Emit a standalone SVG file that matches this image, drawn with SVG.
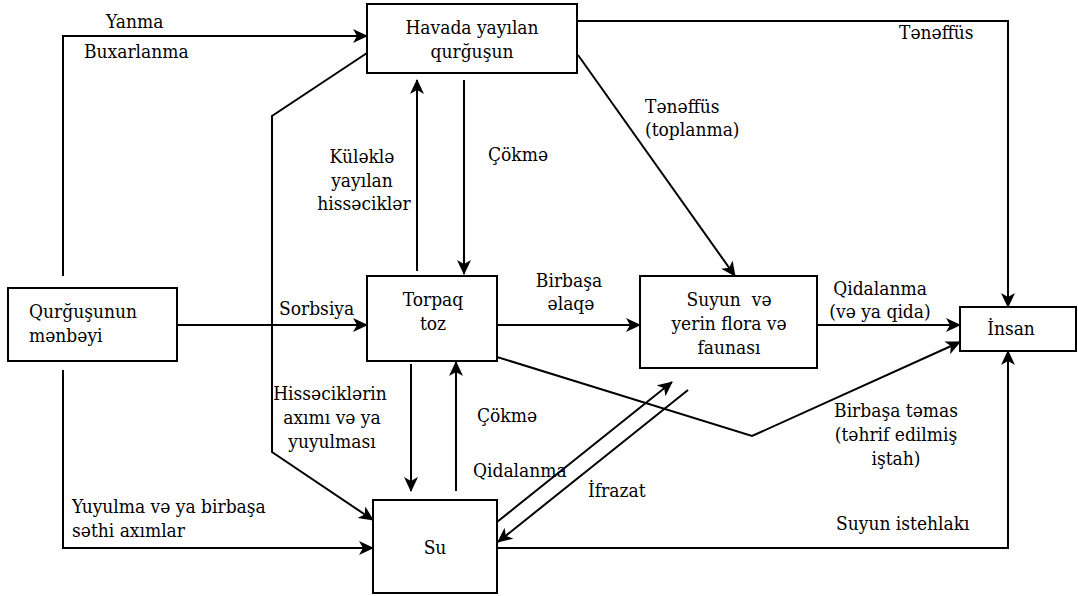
<svg xmlns="http://www.w3.org/2000/svg" width="1078" height="596" viewBox="0 0 1078 596">
  <style>
    .box { fill: #ffffff; stroke: #000000; stroke-width: 2; }
    .wire { fill: none; stroke: #000000; stroke-width: 2; }
    .arr { marker-end: url(#head); }
    text { font-family: "DejaVu Serif Condensed", "DejaVu Serif", serif; font-stretch: condensed; font-size: 19px; fill: #000000; }
    .c { text-anchor: middle; }
  </style>
  <defs>
    <marker id="head" markerUnits="userSpaceOnUse" markerWidth="18" markerHeight="16" refX="14" refY="7" orient="auto">
      <path d="M0,0 L15,7 L0,14 L4,7 Z" fill="#000000"/>
    </marker>
  </defs>
  <rect width="1078" height="596" fill="#ffffff"/>

  <!-- connectors -->
  <g id="connectors">
    <!-- source up to airborne lead -->
    <polyline class="wire arr" points="63,276 63,36 367,36"/>
    <!-- airborne lead down the left side into water -->
    <polyline class="wire arr" points="367,53 272,116 272,452 373,520"/>
    <!-- source to soil/dust -->
    <line class="wire arr" x1="177" y1="325" x2="367" y2="325"/>
    <!-- source down to water -->
    <polyline class="wire arr" points="63,370 63,548 373,548"/>
    <!-- soil up to air -->
    <line class="wire arr" x1="417" y1="271" x2="417" y2="80"/>
    <!-- air down to soil -->
    <line class="wire arr" x1="464" y1="80" x2="464" y2="274"/>
    <!-- soil to flora/fauna -->
    <line class="wire arr" x1="497" y1="325" x2="640" y2="325"/>
    <!-- air to flora/fauna -->
    <line class="wire arr" x1="578" y1="55" x2="735" y2="276"/>
    <!-- air to human -->
    <polyline class="wire arr" points="577,21 1008,21 1008,307"/>
    <!-- flora/fauna to human -->
    <line class="wire arr" x1="817" y1="325" x2="960" y2="325"/>
    <!-- soil to human (direct contact) -->
    <polyline class="wire arr" points="497,357 752,436 960,342"/>
    <!-- water to human -->
    <polyline class="wire arr" points="497,548 1008,548 1008,351"/>
    <!-- water up to soil -->
    <line class="wire arr" x1="456" y1="491" x2="456" y2="362"/>
    <!-- soil down to water -->
    <line class="wire arr" x1="411" y1="364" x2="411" y2="491"/>
    <!-- water to flora/fauna (feeding) -->
    <line class="wire arr" x1="497" y1="522" x2="672" y2="382"/>
    <!-- flora/fauna to water (excretion) -->
    <line class="wire arr" x1="688" y1="390" x2="498" y2="542"/>

    <!-- connector labels -->
    <text x="106" y="28">Yanma</text>
    <text x="84" y="58">Buxarlanma</text>
    <text x="279" y="315">Sorbsiya</text>
    <text x="72" y="513">Yuyulma və ya birbaşa</text>
    <text x="72" y="537">səthi axımlar</text>
    <text class="c" x="362" y="163">Küləklə</text>
    <text class="c" x="362" y="187">yayılan</text>
    <text class="c" x="364" y="210">hissəciklər</text>
    <text x="488" y="161">Çökmə</text>
    <text x="645" y="113">Tənəffüs</text>
    <text x="645" y="136">(toplanma)</text>
    <text x="899" y="39">Tənəffüs</text>
    <text class="c" x="569" y="287">Birbaşa</text>
    <text class="c" x="571" y="310">əlaqə</text>
    <text class="c" x="880" y="295">Qidalanma</text>
    <text class="c" x="880" y="318">(və ya qida)</text>
    <text class="c" x="896" y="417">Birbaşa təmas</text>
    <text class="c" x="896" y="441">(təhrif edilmiş</text>
    <text class="c" x="896" y="465">iştah)</text>
    <text x="836" y="530">Suyun istehlakı</text>
    <text class="c" x="330" y="400">Hissəciklərin</text>
    <text class="c" x="332" y="424">axımı və ya</text>
    <text class="c" x="332" y="448">yuyulması</text>
    <text x="477" y="422">Çökmə</text>
    <text x="473" y="477">Qidalanma</text>
    <text x="588" y="497">İfrazat</text>
  </g>

  <!-- nodes -->
  <g id="airborne">
    <rect class="box" x="367" y="4" width="210" height="69"/>
    <text class="c" x="472" y="34">Havada yayılan</text>
    <text class="c" x="472" y="58">qurğuşun</text>
  </g>
  <g id="source">
    <rect class="box" x="8" y="288" width="169" height="73"/>
    <text x="29" y="318">Qurğuşunun</text>
    <text x="29" y="342">mənbəyi</text>
  </g>
  <g id="soil">
    <rect class="box" x="367" y="276" width="130" height="85"/>
    <text class="c" x="433" y="306">Torpaq</text>
    <text class="c" x="433" y="330">toz</text>
  </g>
  <g id="biota">
    <rect class="box" x="640" y="276" width="177" height="92"/>
    <text class="c" x="729" y="306" xml:space="preserve">Suyun  və</text>
    <text class="c" x="729" y="330">yerin flora və</text>
    <text class="c" x="729" y="354">faunası</text>
  </g>
  <g id="human">
    <rect class="box" x="960" y="307" width="116" height="44"/>
    <text class="c" x="1011" y="335">İnsan</text>
  </g>
  <g id="water">
    <rect class="box" x="373" y="500" width="124" height="93"/>
    <text class="c" x="435" y="554">Su</text>
  </g>
</svg>
